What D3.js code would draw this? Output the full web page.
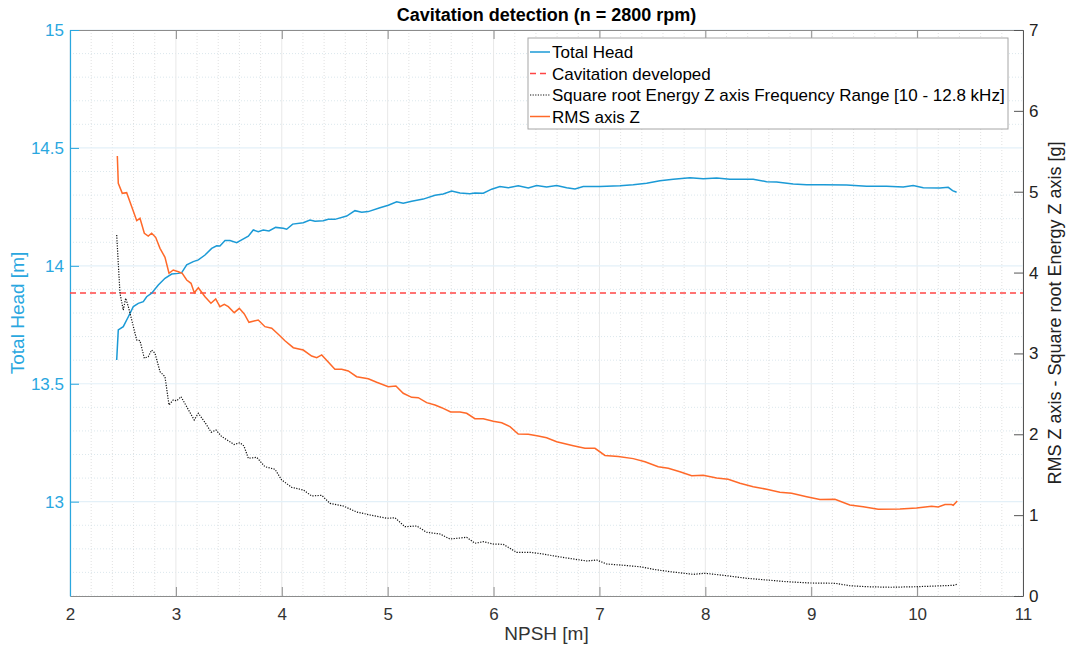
<!DOCTYPE html>
<meta charset="utf-8">
<style>
body { margin: 0; background: #fff; }
text { font-family: "Liberation Sans", Arial, Helvetica, sans-serif; }
</style>
<body>
<script src="https://cdn.jsdelivr.net/npm/d3@7/dist/d3.min.js"></script>
<script>

// ---------- data ----------
var title = 'Cavitation detection (n = 2800 rpm)';
var xTicks = [2, 3, 4, 5, 6, 7, 8, 9, 10, 11];
var headTicks = [13, 13.5, 14, 14.5, 15];
var rmsTicks = [0, 1, 2, 3, 4, 5, 6, 7];
var cavitationHead = 13.885;

// Total Head [m] vs NPSH [m]  (left axis)
var headData = [
  [2.441,13.601],[2.456,13.728],[2.503,13.742],[2.551,13.784],[2.598,13.827],[2.645,13.841],
  [2.692,13.848],[2.724,13.869],[2.771,13.884],[2.834,13.919],[2.897,13.947],[2.960,13.965],
  [3.023,13.968],[3.055,13.971],[3.102,14.004],[3.164,14.018],[3.212,14.025],[3.275,14.046],
  [3.338,14.074],[3.385,14.085],[3.416,14.084],[3.464,14.107],[3.511,14.107],[3.574,14.098],
  [3.621,14.110],[3.684,14.126],[3.731,14.152],[3.778,14.145],[3.825,14.152],[3.879,14.148],
  [3.942,14.163],[4.014,14.159],[4.046,14.155],[4.103,14.177],[4.203,14.183],[4.266,14.194],
  [4.314,14.189],[4.392,14.191],[4.439,14.197],[4.502,14.197],[4.613,14.211],[4.691,14.234],
  [4.755,14.227],[4.817,14.230],[4.927,14.246],[5.006,14.257],[5.085,14.272],[5.147,14.265],
  [5.227,14.274],[5.336,14.283],[5.447,14.299],[5.525,14.305],[5.604,14.317],[5.683,14.309],
  [5.777,14.306],[5.824,14.309],[5.903,14.308],[5.982,14.325],[6.060,14.336],[6.139,14.331],
  [6.233,14.339],[6.328,14.330],[6.407,14.341],[6.501,14.334],[6.596,14.341],[6.690,14.331],
  [6.769,14.326],[6.847,14.336],[7.005,14.336],[7.194,14.340],[7.319,14.344],[7.446,14.350],
  [7.571,14.361],[7.697,14.367],[7.855,14.374],[7.980,14.369],[8.107,14.372],[8.232,14.367],
  [8.452,14.367],[8.579,14.357],[8.673,14.355],[8.830,14.347],[8.957,14.344],[9.113,14.344],
  [9.334,14.343],[9.523,14.337],[9.712,14.337],[9.869,14.334],[9.963,14.341],[10.058,14.331],
  [10.215,14.330],[10.294,14.333],[10.335,14.319],[10.373,14.312]
];

// RMS axis Z [g]  (right axis)
var rmsData = [
  [2.447,5.442],[2.456,5.104],[2.494,4.980],[2.535,4.988],[2.583,4.815],[2.630,4.642],
  [2.661,4.671],[2.702,4.486],[2.739,4.452],[2.771,4.486],[2.809,4.436],[2.850,4.300],
  [2.897,4.189],[2.935,3.991],[2.975,4.032],[3.023,4.011],[3.060,3.991],[3.102,3.908],
  [3.143,3.867],[3.174,3.751],[3.212,3.813],[3.275,3.702],[3.331,3.620],[3.376,3.673],
  [3.416,3.578],[3.457,3.608],[3.495,3.578],[3.551,3.504],[3.599,3.558],[3.646,3.488],
  [3.690,3.385],[3.778,3.413],[3.841,3.331],[3.905,3.311],[3.967,3.237],[4.030,3.157],
  [4.109,3.071],[4.203,3.042],[4.282,2.968],[4.330,2.947],[4.377,2.981],[4.502,2.804],
  [4.566,2.804],[4.628,2.783],[4.707,2.712],[4.817,2.687],[4.896,2.643],[5.006,2.589],
  [5.078,2.597],[5.147,2.507],[5.227,2.457],[5.289,2.453],[5.368,2.391],[5.447,2.362],
  [5.510,2.329],[5.595,2.276],[5.683,2.276],[5.746,2.260],[5.824,2.193],[5.903,2.193],
  [5.997,2.161],[6.077,2.143],[6.155,2.094],[6.233,2.004],[6.328,2.000],[6.422,1.979],
  [6.501,1.958],[6.596,1.908],[6.753,1.859],[6.863,1.827],[6.958,1.827],[7.052,1.738],
  [7.178,1.725],[7.319,1.699],[7.430,1.661],[7.555,1.599],[7.650,1.579],[7.760,1.537],
  [7.871,1.488],[7.980,1.493],[8.107,1.459],[8.216,1.443],[8.327,1.394],[8.452,1.352],
  [8.579,1.320],[8.704,1.283],[8.815,1.270],[8.957,1.228],[9.082,1.193],[9.224,1.197],
  [9.365,1.125],[9.491,1.103],[9.633,1.073],[9.838,1.076],[9.995,1.088],[10.137,1.109],
  [10.199,1.101],[10.263,1.132],[10.326,1.132],[10.341,1.122],[10.379,1.175]
];

// Square root Energy Z axis 10 - 12.8 kHz  (right axis)
var energyData = [
  [2.441,4.465],[2.456,4.115],[2.472,3.744],[2.503,3.537],[2.526,3.682],[2.551,3.578],
  [2.583,3.413],[2.630,3.166],[2.661,3.157],[2.702,2.940],[2.739,2.960],[2.771,3.042],
  [2.803,3.002],[2.850,2.774],[2.897,2.712],[2.935,2.362],[2.975,2.424],[3.008,2.415],
  [3.048,2.465],[3.102,2.341],[3.173,2.177],[3.212,2.260],[3.275,2.146],[3.334,2.025],
  [3.379,2.053],[3.431,1.974],[3.549,1.874],[3.605,1.896],[3.643,1.855],[3.684,1.703],
  [3.763,1.715],[3.841,1.599],[3.936,1.567],[3.999,1.435],[4.094,1.344],[4.203,1.311],
  [4.282,1.237],[4.377,1.245],[4.455,1.146],[4.581,1.113],[4.707,1.039],[4.833,1.002],
  [4.991,0.961],[5.069,0.968],[5.163,0.857],[5.274,0.866],[5.368,0.788],[5.494,0.767],
  [5.588,0.705],[5.746,0.726],[5.824,0.652],[5.903,0.672],[5.997,0.643],[6.092,0.639],
  [6.218,0.540],[6.344,0.540],[6.469,0.519],[6.611,0.486],[6.753,0.458],[6.879,0.433],
  [6.974,0.445],[7.068,0.396],[7.225,0.380],[7.382,0.362],[7.508,0.330],[7.666,0.301],
  [7.886,0.268],[7.996,0.281],[8.201,0.251],[8.390,0.219],[8.579,0.198],[8.768,0.177],
  [8.988,0.161],[9.224,0.157],[9.365,0.127],[9.523,0.115],[9.743,0.108],[9.995,0.115],
  [10.184,0.124],[10.341,0.132],[10.379,0.145]
];

var legendLabels = ['Total Head', 'Cavitation developed',
  'Square root Energy Z axis Frequency Range [10 - 12.8 kHz]', 'RMS axis Z'];

// ---------- layout ----------
var W = 1071, H = 649;
var pLeft = 70, pRight = 1023, pTop = 30, pBottom = 596;
var blue = '#1b9ad6', blueAxis = '#2aa7df', orange = '#ff6929', red = '#ff4545';

var x = d3.scaleLinear().domain([2, 11]).range([pLeft, pRight]);
var yL = d3.scaleLinear().domain([12.6, 15]).range([pBottom, pTop]);
var yR = d3.scaleLinear().domain([0, 7]).range([pBottom, pTop]);

var svg = d3.select('body').append('svg').attr('width', W).attr('height', H);

// grid: minor first
var grid = svg.append('g');
d3.range(2, 11.001, 0.2).forEach(function (v) {
  if (Math.abs(v - Math.round(v)) < 1e-6) return;
  grid.append('line').attr('x1', x(v)).attr('x2', x(v)).attr('y1', pTop).attr('y2', pBottom)
    .attr('stroke', '#d9d9d9').attr('stroke-width', 0.8).attr('stroke-dasharray', '1,2');
});
d3.range(12.6, 15.001, 0.1).forEach(function (v) {
  if (Math.abs(v * 2 - Math.round(v * 2)) < 1e-6) return;
  grid.append('line').attr('x1', pLeft).attr('x2', pRight).attr('y1', yL(v)).attr('y2', yL(v))
    .attr('stroke', '#d3e2e8').attr('stroke-width', 0.8).attr('stroke-dasharray', '1,2');
});
xTicks.forEach(function (v) {
  grid.append('line').attr('x1', x(v)).attr('x2', x(v)).attr('y1', pTop).attr('y2', pBottom)
    .attr('stroke', '#e8e8e8').attr('stroke-width', 1);
});
headTicks.forEach(function (v) {
  grid.append('line').attr('x1', pLeft).attr('x2', pRight).attr('y1', yL(v)).attr('y2', yL(v))
    .attr('stroke', '#e3f0f8').attr('stroke-width', 1.2);
});

// axes
var fmt = function (d) { return String(d); };
var gx = svg.append('g').attr('transform', 'translate(0,' + pBottom + ')')
  .call(d3.axisBottom(x).tickValues(xTicks).tickFormat(fmt).tickSizeInner(-9).tickSizeOuter(0).tickPadding(12));
gx.select('.domain').attr('stroke', '#8c8c8c');
gx.selectAll('.tick line').attr('stroke', '#8c8c8c');
gx.selectAll('.tick text').attr('fill', '#333').attr('font-size', 17);

var gt = svg.append('g').attr('transform', 'translate(0,' + pTop + ')')
  .call(d3.axisTop(x).tickValues(xTicks).tickFormat('').tickSizeInner(-9).tickSizeOuter(0));
gt.select('.domain').attr('stroke', '#8c8c8c');
gt.selectAll('.tick line').attr('stroke', '#8c8c8c');

var gl = svg.append('g').attr('transform', 'translate(' + pLeft + ',0)')
  .call(d3.axisLeft(yL).tickValues(headTicks).tickFormat(fmt).tickSizeInner(-9).tickSizeOuter(0).tickPadding(6));
gl.select('.domain').attr('stroke', blueAxis).attr('stroke-width', 1.2);
gl.selectAll('.tick line').attr('stroke', blueAxis);
gl.selectAll('.tick text').attr('fill', blueAxis).attr('font-size', 17);

var gr = svg.append('g').attr('transform', 'translate(' + pRight + ',0)')
  .call(d3.axisRight(yR).tickValues(rmsTicks).tickFormat(fmt).tickSizeInner(-9).tickSizeOuter(0).tickPadding(6));
gr.select('.domain').attr('stroke', '#555');
gr.selectAll('.tick line').attr('stroke', '#555');
gr.selectAll('.tick text').attr('fill', '#222').attr('font-size', 17);

// cavitation threshold
svg.append('line').attr('x1', pLeft).attr('x2', pRight)
  .attr('y1', yL(cavitationHead)).attr('y2', yL(cavitationHead))
  .attr('stroke', red).attr('stroke-width', 1.6).attr('stroke-dasharray', '6,4');

// series
var lineL = d3.line().x(function (d) { return x(d[0]); }).y(function (d) { return yL(d[1]); });
var lineR = d3.line().x(function (d) { return x(d[0]); }).y(function (d) { return yR(d[1]); });

svg.append('path').datum(headData).attr('d', lineL)
  .attr('fill', 'none').attr('stroke', blue).attr('stroke-width', 1.5);
svg.append('path').datum(energyData).attr('d', lineR)
  .attr('fill', 'none').attr('stroke', '#111').attr('stroke-width', 1.2).attr('stroke-dasharray', '1.2,1.4');
svg.append('path').datum(rmsData).attr('d', lineR)
  .attr('fill', 'none').attr('stroke', orange).attr('stroke-width', 1.5);

// labels
svg.append('text').attr('x', (pLeft + pRight) / 2).attr('y', 21).attr('text-anchor', 'middle')
  .attr('font-size', 18).attr('font-weight', 'bold').attr('fill', '#000').text(title);
svg.append('text').attr('x', (pLeft + pRight) / 2).attr('y', 640).attr('text-anchor', 'middle')
  .attr('font-size', 19).attr('fill', '#333').text('NPSH [m]');
svg.append('text').attr('transform', 'translate(24,' + ((pTop + pBottom) / 2) + ') rotate(-90)')
  .attr('text-anchor', 'middle').attr('font-size', 19).attr('fill', blueAxis).text('Total Head [m]');
svg.append('text').attr('transform', 'translate(1061,' + ((pTop + pBottom) / 2) + ') rotate(-90)')
  .attr('text-anchor', 'middle').attr('font-size', 18).attr('fill', '#222')
  .text('RMS Z axis - Square root Energy Z axis [g]');

// legend
var lg = svg.append('g').attr('transform', 'translate(528,38)');
lg.append('rect').attr('width', 480).attr('height', 91)
  .attr('fill', '#fff').attr('stroke', '#a6a6a6').attr('stroke-width', 1);
var legendStyles = [
  { color: blue, dash: null, w: 1.5 },
  { color: red, dash: '6,4', w: 1.6 },
  { color: '#111', dash: '1.2,1.4', w: 1.2 },
  { color: orange, dash: null, w: 1.5 }
];
legendLabels.forEach(function (label, i) {
  var yy = 14 + i * 21.5;
  var s = legendStyles[i];
  lg.append('line').attr('x1', 2).attr('x2', 22).attr('y1', yy).attr('y2', yy)
    .attr('stroke', s.color).attr('stroke-width', s.w).attr('stroke-dasharray', s.dash);
  lg.append('text').attr('x', 24).attr('y', yy + 6).attr('font-size', 17).attr('fill', '#000').text(label);
});

</script>
</body>
